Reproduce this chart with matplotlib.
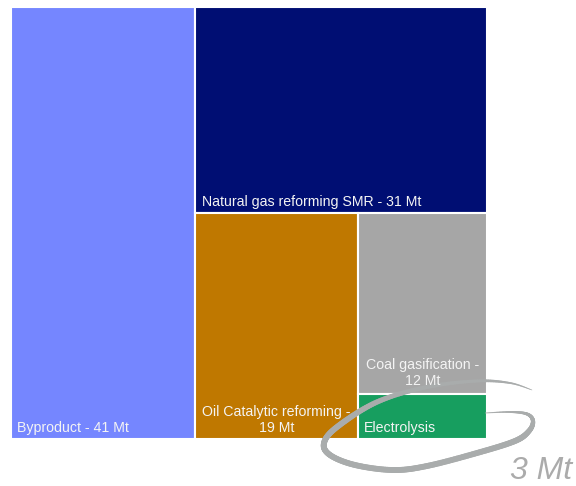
import numpy as np
import matplotlib
matplotlib.use("Agg")
import matplotlib.pyplot as plt
from matplotlib.patches import Rectangle
from matplotlib.collections import LineCollection

plt.rcParams['font.family'] = ['Liberation Sans', 'DejaVu Sans']

categories = ["Byproduct", "Natural gas reforming SMR", "Oil Catalytic reforming",
              "Coal gasification", "Electrolysis"]
values = [41, 31, 19, 12, 3]
labels = ["Byproduct - 41 Mt", "Natural gas reforming SMR - 31 Mt",
          "Oil Catalytic reforming -\n19 Mt", "Coal gasification -\n12 Mt", "Electrolysis"]
colors = ["#7586FF", "#000E73", "#BF7800", "#A6A6A6", "#179E5F"]
callout = "3 Mt"

W, H = 576, 486
fig = plt.figure(figsize=(W / 100, H / 100), dpi=100)
ax = fig.add_axes([0, 0, 1, 1])
ax.set_xlim(0, W)
ax.set_ylim(H, 0)
ax.axis("off")

# treemap area (pixel coords, y down)
X0, Y0, TW, TH = 11, 7, 476, 432
v = np.array(values, dtype=float)
total = v.sum()

rects = []
w0 = TW * v[0] / total
rects.append((X0, Y0, w0, TH))
rx, rw = X0 + w0, TW - w0
rest = v[1:].sum()
h1 = TH * v[1] / rest
rects.append((rx, Y0, rw, h1))
by, bh = Y0 + h1, TH - h1
rest2 = v[2:].sum()
w2 = rw * v[2] / rest2
rects.append((rx, by, w2, bh))
cx0, cw = rx + w2, rw - w2
rest3 = v[3:].sum()
h3 = bh * v[3] / rest3
rects.append((cx0, by, cw, h3))
rects.append((cx0, by + h3, cw, bh - h3))

for (x, y, w, h), c in zip(rects, colors):
    ax.add_patch(Rectangle((x, y), w, h, facecolor=c, edgecolor="white", linewidth=1.5))

fs = 10.2
tc = "#F4F4F4"
x, y, w, h = rects[0]
ax.text(x + 6, y + h - 7, labels[0], color=tc, fontsize=fs, ha="left", va="baseline")
x, y, w, h = rects[1]
ax.text(x + 7, y + h - 7, labels[1], color=tc, fontsize=fs, ha="left", va="baseline")
x, y, w, h = rects[2]
ax.text(x + w / 2, y + h - 4, labels[2], color=tc, fontsize=fs, ha="center", va="bottom",
        linespacing=1.15)
x, y, w, h = rects[3]
ax.text(x + w / 2, y + h - 6, labels[3], color=tc, fontsize=fs, ha="center", va="bottom",
        linespacing=1.15)
x, y, w, h = rects[4]
ax.text(x + 6, y + h - 7, labels[4], color=tc, fontsize=fs, ha="left", va="baseline")

# hand-drawn swirl annotation around the electrolysis block (decoration)
ctrl = np.array([
    (485, 413), (510, 412), (527, 414), (533, 421), (529, 431), (515, 441),
    (477, 453), (427, 466), (393, 470), (355, 465), (330, 455), (324, 443),
    (337, 427), (377, 402), (427, 387), (477, 381), (510, 383), (532, 390)], float)

def catmull_rom(P, n=20):
    P = np.vstack([P[0], P, P[-1]])
    out = []
    for i in range(1, len(P) - 2):
        p0, p1, p2, p3 = P[i - 1], P[i], P[i + 1], P[i + 2]
        t = np.linspace(0, 1, n, endpoint=False)[:, None]
        out.append(0.5 * ((2 * p1) + (-p0 + p2) * t + (2 * p0 - 5 * p1 + 4 * p2 - p3) * t ** 2
                          + (-p0 + 3 * p1 - 3 * p2 + p3) * t ** 3))
    out.append(P[-2][None, :])
    return np.vstack(out)

curve = catmull_rom(ctrl)
pts = curve.reshape(-1, 1, 2)
segs = np.concatenate([pts[:-1], pts[1:]], axis=1)
tt = np.linspace(0, 1, len(segs))
lw = 0.4 + 3.8 * np.clip(np.sin(np.pi * tt) * 1.3, 0, 1)
lc = LineCollection(segs, linewidths=lw, colors="#A9ACAC", capstyle="round")
ax.add_collection(lc)

ax.text(510, 479, callout, color="#ABABAB", fontsize=23, style="italic",
        ha="left", va="baseline")

fig.savefig("out.png", dpi=100)
